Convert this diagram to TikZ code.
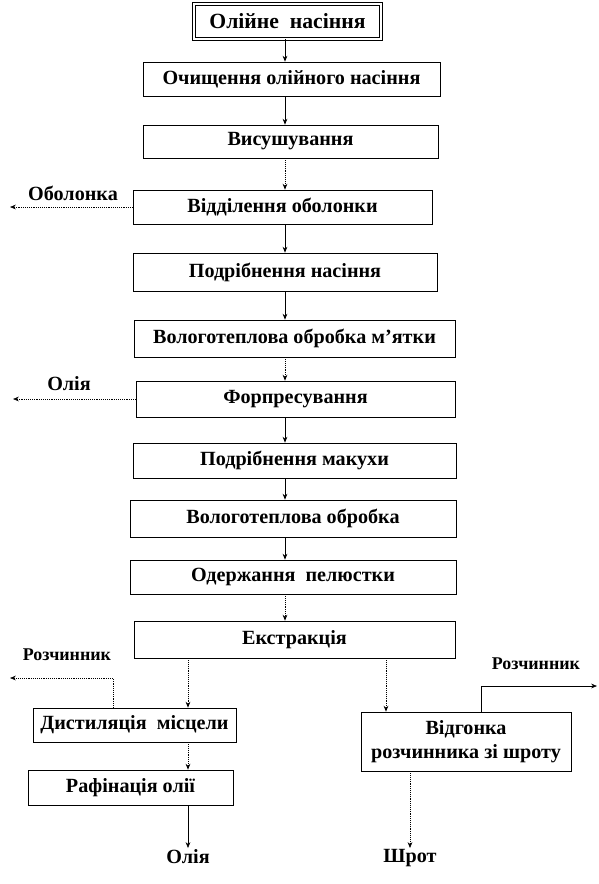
\documentclass[tikz,border=0pt]{standalone}
\usepackage{fontspec}
\setmainfont{Liberation Serif}
\usetikzlibrary{arrows.meta,positioning}
\tikzset{
  every picture/.style={line width=0.6pt, font=\bfseries\fontsize{17.2}{20}\selectfont},
  stage/.style={draw, rectangle, inner sep=2pt, align=center},
  dims/.style 2 args={minimum width=#1cm, minimum height=#2cm},
  source/.style={stage, double, double distance=1.6pt, font=\bfseries\fontsize{18.5}{21}\selectfont},
  flow/.style={-{Stealth[length=5pt,width=4pt]}},
  faint/.style={flow, densely dotted},
  outlabel/.style={inner sep=1pt},
  solvent/.style={outlabel, font=\bfseries\fontsize{15.3}{17}\selectfont},
}
\begin{document}
\begin{tikzpicture}[x=0.03cm, y=-0.03cm]
\useasboundingbox (0,0) rectangle (599,884);
% main line of stages
\node[source, dims={5.61}{1.05}] (seed) at (287.5,21.5) {Олійне\ \ насіння};
\node[stage, dims={8.91}{1.02}] (clean) at (291.5,79) {Очищення олійного насіння};
\node[stage, dims={8.85}{0.99}] (dry) at (290.5,141.5) {Висушування};
\node[stage, dims={8.97}{1.02}] (hull) at (282.5,207) {Відділення оболонки};
\node[stage, dims={9.12}{1.14}] (crush) at (285,272) {Подрібнення насіння};
\node[stage, dims={9.63}{1.11}] (cond) at (294.5,338.5) {Вологотеплова обробка м’ятки};
\node[stage, dims={9.57}{1.08}] (press) at (295.5,399) {Форпресування};
\node[stage, dims={9.69}{1.05}] (cake) at (294.5,460.5) {Подрібнення макухи};
\node[stage, dims={9.78}{1.11}] (heat) at (293,518.5) {Вологотеплова обробка};
\node[stage, dims={9.78}{1.02}] (flake) at (293,577) {Одержання\ \ пелюстки};
\node[stage, dims={9.63}{1.11}] (extr) at (294.5,639.5) {Екстракція};
% two branches after extraction
\node[stage, dims={6.09}{1.02}] (dist) at (134.5,725) {Дистиляція\ \ місцели};
\node[stage, dims={6.15}{1.05}] (refine) at (130.5,787.5) {Рафінація олії};
\node[stage, dims={6.30}{1.77}] (strip) at (466,741.5) {Відгонка\\розчинника зі шроту};
% outputs
\node[outlabel] (hullout) at (73,193) {Оболонка};
\node[outlabel] (oilout) at (69,384) {Олія};
\node[solvent] (solvL) at (67,655) {Розчинник};
\node[solvent] (solvR) at (536,664) {Розчинник};
\node[outlabel, anchor=north] (oil) at (188,848) {Олія};
\node[outlabel, anchor=north] (meal) at (410,848) {Шрот};
% connectors
\coordinate (spine) at (285,0);
\foreach \a/\b/\s in {seed/clean/flow, clean/dry/flow, dry/hull/faint, hull/crush/flow, crush/cond/flow, cond/press/faint, press/cake/flow, cake/heat/flow, heat/flake/flow, flake/extr/faint}
  \draw[\s] (\a.south -| spine) -- (\b.north -| spine);
\coordinate (distcol) at (188,0);
\coordinate (stripcol) at (386,0);
\coordinate (mealcol) at (410,0);
\draw[faint] (extr.south -| distcol) -- (dist.north -| distcol);
\draw[faint] (extr.south -| stripcol) -- (strip.north -| stripcol);
\draw[faint] (dist.south -| distcol) -- (refine.north -| distcol);
\draw[flow] (refine.south -| distcol) -- (oil.north -| distcol);
\draw[faint] (strip.south -| mealcol) -- (meal.north -| mealcol);
\coordinate (hullend) at (10,0);
\coordinate (oilend) at (13,0);
\draw[faint] (hull.west) -- (hull.west -| hullend);
\draw[faint] (press.west) -- (press.west -| oilend);
\coordinate (distup) at (113,678);
\coordinate (solvLend) at (10,678);
\draw[faint] (dist.north -| distup) -- (distup) -- (solvLend);
\coordinate (stripup) at (481,686);
\coordinate (solvRend) at (597,686);
\draw[flow] (strip.north -| stripup) -- (stripup) -- (solvRend);
\end{tikzpicture}
\end{document}
